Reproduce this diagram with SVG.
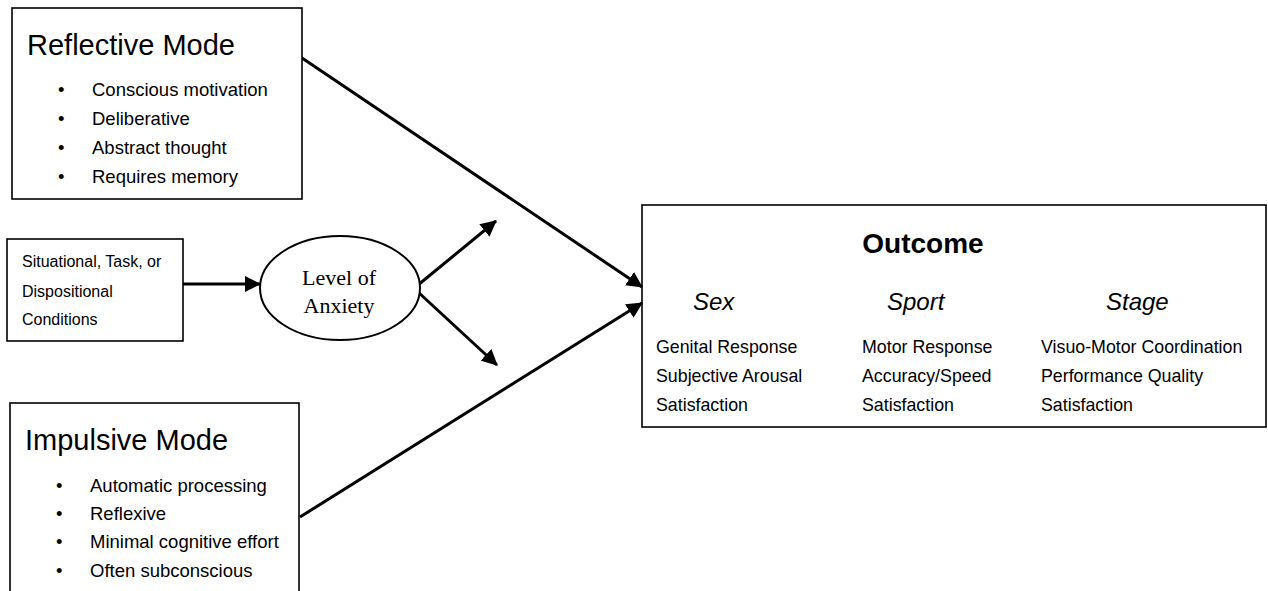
<svg xmlns="http://www.w3.org/2000/svg" width="1268" height="591" viewBox="0 0 1268 591">
<style>
.box{fill:#fff;stroke:#000;stroke-width:1.6}
.t{font-family:"Liberation Sans",Arial,sans-serif;fill:#000}
.title{font-size:29px}
.item{font-size:18.5px}
.small{font-size:16px}
.oc{font-size:17.8px}
.hd{font-size:24px;font-style:italic}
.serif{font-family:"Liberation Serif","Times New Roman",serif;font-size:22px;fill:#000}
.conn{stroke:#000;stroke-width:3;fill:none}
</style>
<defs>
<marker id="ah" markerUnits="userSpaceOnUse" markerWidth="16" markerHeight="16" refX="15" refY="8" orient="auto">
<path d="M0,0 L16,8 L0,16 z" fill="#000"/>
</marker>
</defs>
<rect width="1268" height="591" fill="#fff"/>
<g id="outcome">
<rect class="box" x="642" y="205" width="624" height="222"/>
<text class="t" x="923" y="253" font-size="28" font-weight="bold" text-anchor="middle">Outcome</text>
<text class="t hd" x="693" y="310">Sex</text>
<text class="t hd" x="887" y="310">Sport</text>
<text class="t hd" x="1106" y="310">Stage</text>
<g class="t oc">
<text x="656" y="353">Genital Response</text>
<text x="656" y="382">Subjective Arousal</text>
<text x="656" y="411">Satisfaction</text>
<text x="862" y="353">Motor Response</text>
<text x="862" y="382">Accuracy/Speed</text>
<text x="862" y="411">Satisfaction</text>
<text x="1041" y="353">Visuo-Motor Coordination</text>
<text x="1041" y="382">Performance Quality</text>
<text x="1041" y="411">Satisfaction</text>
</g>
</g>
<g id="connectors">
<line class="conn" x1="302" y1="58" x2="642" y2="287" marker-end="url(#ah)"/>
<line class="conn" x1="300" y1="517" x2="642" y2="303" marker-end="url(#ah)"/>
<line class="conn" x1="183" y1="284" x2="260" y2="284" marker-end="url(#ah)"/>
<line class="conn" x1="418" y1="285" x2="496" y2="221" marker-end="url(#ah)"/>
<line class="conn" x1="418" y1="292" x2="497" y2="365" marker-end="url(#ah)"/>
</g>
<g id="reflective">
<rect class="box" x="12" y="8" width="290" height="191"/>
<text class="t title" x="27" y="55">Reflective Mode</text>
<g class="t item">
<text x="58" y="96">•</text><text x="92" y="96">Conscious motivation</text>
<text x="58" y="125">•</text><text x="92" y="125">Deliberative</text>
<text x="58" y="154">•</text><text x="92" y="154">Abstract thought</text>
<text x="58" y="183">•</text><text x="92" y="183">Requires memory</text>
</g>
</g>
<g id="conditions">
<rect class="box" x="7" y="239" width="176" height="102"/>
<g class="t small">
<text x="22" y="267">Situational, Task, or</text>
<text x="22" y="297">Dispositional</text>
<text x="22" y="325">Conditions</text>
</g>
</g>
<g id="anxiety">
<ellipse cx="340" cy="288" rx="80" ry="52" fill="#fff" stroke="#000" stroke-width="2"/>
<text class="serif" x="339" y="285" text-anchor="middle">Level of</text>
<text class="serif" x="339" y="313" text-anchor="middle">Anxiety</text>
</g>
<g id="impulsive">
<rect class="box" x="10" y="403" width="289" height="200"/>
<text class="t title" x="25" y="450">Impulsive Mode</text>
<g class="t item">
<text x="56" y="492">•</text><text x="90" y="492">Automatic processing</text>
<text x="56" y="520">•</text><text x="90" y="520">Reflexive</text>
<text x="56" y="548">•</text><text x="90" y="548">Minimal cognitive effort</text>
<text x="56" y="577">•</text><text x="90" y="577">Often subconscious</text>
</g>
</g>
</svg>
